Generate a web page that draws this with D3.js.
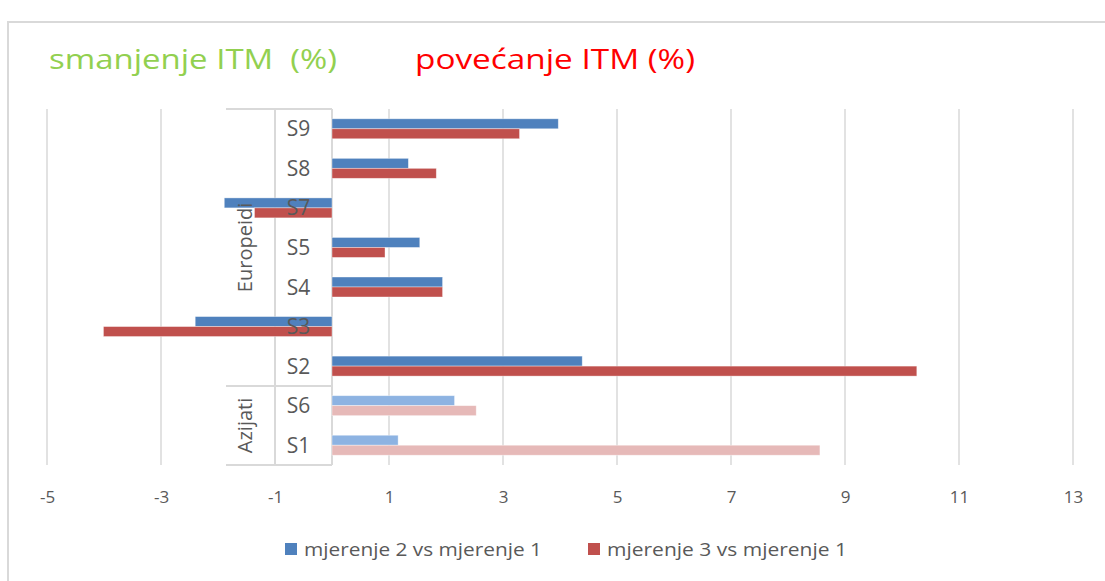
<!DOCTYPE html>
<html>
<head>
<meta charset="utf-8">
<script src="https://cdn.jsdelivr.net/npm/d3@7"></script>
<style>
  body { margin: 0; background: #fff; }
  svg { display: block; }
  text { white-space: pre; }
</style>
</head>
<body>
<div id="chart"></div>
<script>
// Dimensions
const width = 1105;
const height = 581;
const margin = { top: 109, right: 32, bottom: 116, left: 47 };
const font = "Open Sans, sans-serif";

// Data (top to bottom as in the chart)
const categories = ["S9", "S8", "S7", "S5", "S4", "S3", "S2", "S6", "S1"];
const groupOf = ["Europeidi", "Europeidi", "Europeidi", "Europeidi", "Europeidi", "Europeidi", "Europeidi", "Azijati", "Azijati"];
const groups = ["Europeidi", "Azijati"];
const seriesNames = ["mjerenje 2 vs mjerenje 1", "mjerenje 3 vs mjerenje 1"];
const mjerenje2 = [3.97, 1.34, -1.89, 1.54, 1.94, -2.40, 4.39, 2.15, 1.16];
const mjerenje3 = [3.29, 1.83, -1.36, 0.93, 1.94, -4.01, 10.26, 2.53, 8.56];
const tickValues = [-5, -3, -1, 1, 3, 5, 7, 9, 11, 13];

const colors = {
  Europeidi: ["#4f81bd", "#c0504d"],
  Azijati: ["#8db3e2", "#e6b9b8"]
};

const svg = d3
  .select("#chart")
  .append("svg")
  .attr("width", width)
  .attr("height", height);

// Chart frame (cropped at right and bottom)
svg.append("path")
  .attr("d", `M8,${height} V22 H${width}`)
  .attr("fill", "none")
  .attr("stroke", "#d9d9d9")
  .attr("stroke-width", 2);

// Title texts
svg.append("text")
  .attr("x", 49)
  .attr("y", 69)
  .attr("font-family", font)
  .attr("font-size", "28px")
  .attr("fill", "#92d050")
  .attr("textLength", 288)
  .attr("lengthAdjust", "spacingAndGlyphs")
  .text("smanjenje ITM  (%)");

svg.append("text")
  .attr("x", 415)
  .attr("y", 69)
  .attr("font-family", font)
  .attr("font-size", "28px")
  .attr("fill", "#ff0000")
  .attr("textLength", 280)
  .attr("lengthAdjust", "spacingAndGlyphs")
  .text("povećanje ITM (%)");

// Scales
const x = d3
  .scaleLinear()
  .domain([-5, 13])
  .range([margin.left, width - margin.right]);

const y = d3
  .scaleBand()
  .domain(categories)
  .range([margin.top, height - margin.bottom]);

const ySub = d3
  .scaleBand()
  .domain([0, 1])
  .range([0, y.bandwidth()])
  .paddingOuter(0.98);

// Gridlines
svg.append("g")
  .selectAll("line")
  .data(tickValues)
  .join("line")
  .attr("x1", d => x(d))
  .attr("x2", d => x(d))
  .attr("y1", margin.top)
  .attr("y2", height - margin.bottom)
  .attr("stroke", "#d9d9d9")
  .attr("stroke-width", 1.5);

// X axis labels
const xAxis = d3.axisBottom(x).tickValues(tickValues).tickSize(0).tickPadding(26).tickFormat(d => String(d));
const xg = svg.append("g")
  .attr("transform", `translate(0,${height - margin.bottom})`)
  .call(xAxis);
xg.select(".domain").remove();
xg.selectAll("text")
  .attr("fill", "#595959")
  .attr("font-family", font)
  .attr("font-size", "17px");

// Category table (left of zero line)
const x0 = x(0);
const tableLeft = 226;
const tableMid = 275;
const lineColor = "#d9d9d9";

const table = svg.append("g").attr("stroke", lineColor).attr("stroke-width", 2).attr("fill", "none");
table.append("line").attr("x1", tableLeft).attr("x2", x0).attr("y1", y.range()[0]).attr("y2", y.range()[0]);
table.append("line").attr("x1", tableLeft).attr("x2", x0).attr("y1", y.range()[1]).attr("y2", y.range()[1]);
table.append("line").attr("x1", tableMid).attr("x2", tableMid).attr("y1", y.range()[0]).attr("y2", y.range()[1]);
table.append("line").attr("x1", x0).attr("x2", x0).attr("y1", y.range()[0]).attr("y2", y.range()[1]);
// separator between groups
const sepY = y("S6");
table.append("line").attr("x1", tableLeft).attr("x2", x0).attr("y1", sepY).attr("y2", sepY);

// Bars
const barData = [];
categories.forEach((c, i) => {
  [mjerenje2[i], mjerenje3[i]].forEach((v, s) => {
    barData.push({ cat: c, group: groupOf[i], s: s, value: v });
  });
});

svg.append("g")
  .selectAll("rect")
  .data(barData)
  .join("rect")
  .attr("x", d => x(Math.min(0, d.value)))
  .attr("width", d => Math.abs(x(d.value) - x(0)))
  .attr("y", d => y(d.cat) + ySub(d.s))
  .attr("height", ySub.bandwidth())
  .attr("fill", d => colors[d.group][d.s])
  .attr("stroke", "#ffffff")
  .attr("stroke-opacity", 0.5)
  .attr("stroke-width", 0.75);

// Category labels
svg.append("g")
  .selectAll("text")
  .data(categories)
  .join("text")
  .attr("x", (tableMid + x0) / 2 - 5)
  .attr("y", d => y(d) + y.bandwidth() / 2)
  .attr("dy", "0.36em")
  .attr("text-anchor", "middle")
  .attr("fill", "#595959")
  .attr("font-family", font)
  .attr("font-size", "21px")
  .text(d => d);

// Group labels (rotated)
groups.forEach(g => {
  const cats = categories.filter((c, i) => groupOf[i] === g);
  const y1 = y(cats[0]);
  const y2 = y(cats[cats.length - 1]) + y.bandwidth();
  const cy = (y1 + y2) / 2;
  svg.append("text")
    .attr("transform", `translate(245,${cy}) rotate(-90)`)
    .attr("dy", "0.36em")
    .attr("text-anchor", "middle")
    .attr("fill", "#595959")
    .attr("font-family", font)
    .attr("font-size", "20px")
    .text(g);
});

// Legend
const legend = svg.append("g").attr("transform", `translate(0,549)`);
const legendX = [285, 588];
const legendW = [238, 240];
seriesNames.forEach((name, i) => {
  legend.append("rect")
    .attr("x", legendX[i])
    .attr("y", -6)
    .attr("width", 12)
    .attr("height", 12)
    .attr("fill", colors.Europeidi[i]);
  legend.append("text")
    .attr("x", legendX[i] + 19)
    .attr("y", 0)
    .attr("dy", "0.36em")
    .attr("fill", "#595959")
    .attr("font-family", font)
    .attr("font-size", "19px")
    .attr("textLength", legendW[i])
    .attr("lengthAdjust", "spacingAndGlyphs")
    .text(name);
});
</script>
</body>
</html>
